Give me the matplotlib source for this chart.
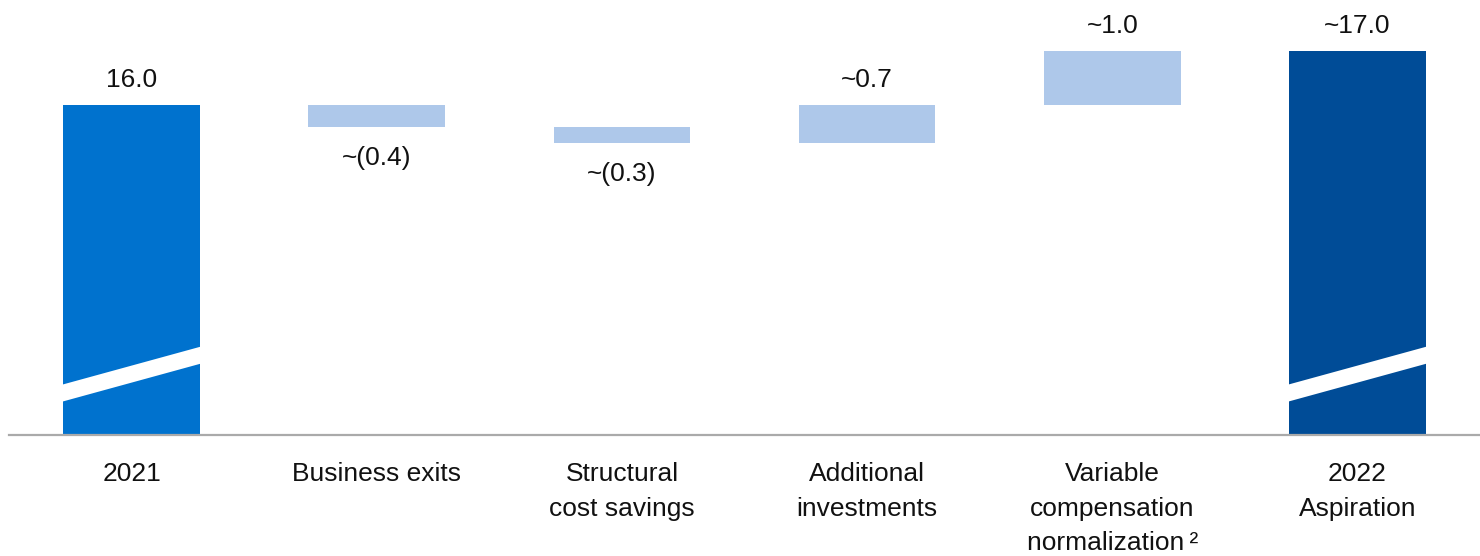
import matplotlib.pyplot as plt
from matplotlib.patches import Polygon

plt.rcParams['font.family'] = ['Liberation Sans', 'DejaVu Sans']

# waterfall data (EUR bn)
categories = ['2021', 'Business exits', 'Structural\ncost savings', 'Additional\ninvestments',
              'Variable\ncompensation\nnormalization\u2009\u00b2', '2022\nAspiration']
start_value = 16.0
deltas = [-0.4, -0.3, 0.7, 1.0]
end_value = start_value + sum(deltas)

c_start = '#0072CE'
c_end = '#004C97'
c_delta = '#AEC8EA'

fig = plt.figure(figsize=(14.8, 5.56), dpi=100)
ax = fig.add_axes([9 / 1480, 121 / 556, 1471 / 1480, 435 / 556])
y_bottom, y_top = 9.889, 17.944
ax.set_xlim(-0.5, 5.5)
ax.set_ylim(y_bottom, y_top)

bw = 0.558
fs = 19

def top_label(x, y, txt):
    ax.annotate(txt, (x, y), xytext=(0, 13), textcoords='offset points',
                ha='center', va='baseline', fontsize=fs, color='#111111')

def bottom_label(x, y, txt):
    ax.annotate(txt, (x, y), xytext=(0, -14), textcoords='offset points',
                ha='center', va='top', fontsize=fs, color='#111111')

def break_stripe(x):
    # white slanted band marking the broken axis
    x0, x1 = x - bw / 2 - 0.01, x + bw / 2 + 0.01
    lo0, lo1 = y_bottom + 0.61, y_bottom + 1.33
    th = 0.315
    ax.add_patch(Polygon([(x0, lo0), (x1, lo1), (x1, lo1 + th), (x0, lo0 + th)],
                         closed=True, facecolor='white', edgecolor='none', zorder=3))

# start bar
ax.bar(0, start_value, width=bw, color=c_start, zorder=2)
top_label(0, start_value, f'{start_value:.1f}')
break_stripe(0)

# delta bars
running = start_value
for i, d in enumerate(deltas, start=1):
    new = running + d
    ax.bar(i, abs(d), bottom=min(running, new), width=bw, color=c_delta, zorder=2)
    if d < 0:
        bottom_label(i, min(running, new), f'~({abs(d):.1f})')
    else:
        top_label(i, max(running, new), f'~{d:.1f}')
    running = new

# end bar
ax.bar(5, end_value, width=bw, color=c_end, zorder=2)
top_label(5, end_value, f'~{end_value:.1f}')
break_stripe(5)

for s in ['top', 'right', 'left']:
    ax.spines[s].set_visible(False)
ax.spines['bottom'].set_color('#AAAAAA')
ax.spines['bottom'].set_linewidth(1.6)
ax.set_yticks([])
ax.set_xticks(range(len(categories)))
ax.set_xticklabels(categories, fontsize=fs, color='#111111', linespacing=1.56)
ax.tick_params(axis='x', length=0, pad=19.5)

fig.savefig('out.png', dpi=100)
